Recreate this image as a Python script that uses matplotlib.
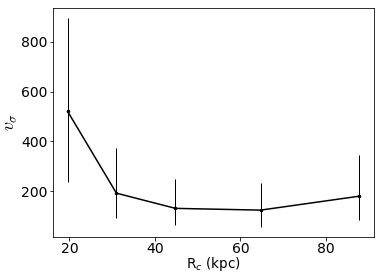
import numpy as np
import matplotlib
matplotlib.use("Agg")
import matplotlib.pyplot as plt

# data
r_c = [19.6, 31.0, 44.8, 64.7, 87.8]
v_sigma = [520, 192, 131, 124, 180]
err_low = [283, 100, 67, 66, 94]
err_high = [374, 181, 116, 107, 164]

fig = plt.figure(figsize=(382 / 72, 273 / 72), dpi=72)
ax = fig.add_axes([0.139, 0.132, 0.840, 0.839])

ax.errorbar(r_c, v_sigma, yerr=[err_low, err_high], color="black",
            marker=".", markersize=5, linewidth=1.5, elinewidth=1.0)

ax.set_xlabel("R$_c$ (kpc)", fontsize=13.5, labelpad=-1)
ax.set_ylabel(r"$v_\sigma$", fontsize=18, math_fontfamily="cm", labelpad=2)
ax.tick_params(labelsize=14, length=3.5, pad=2)
ax.set_xticks([20, 40, 60, 80])
ax.set_yticks([200, 400, 600, 800])

fig.savefig("out.png", dpi=72)
